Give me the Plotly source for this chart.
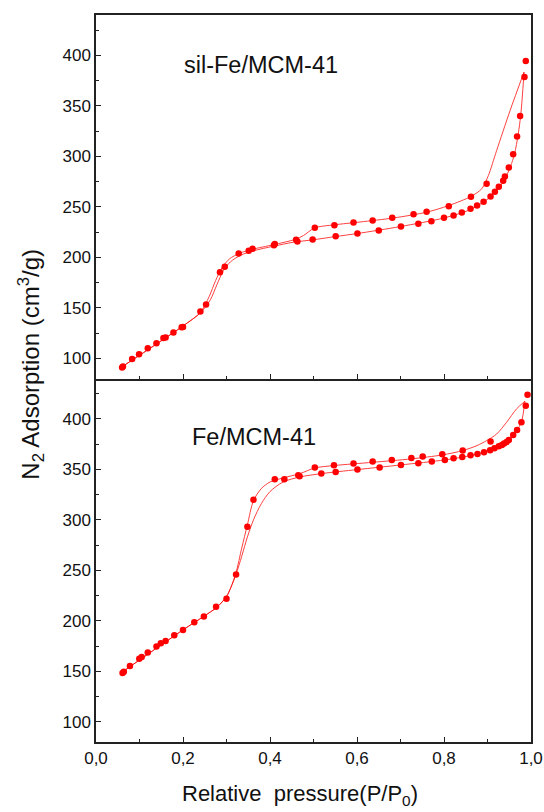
import plotly.graph_objects as go
from plotly.subplots import make_subplots

# ---------------- data ----------------
# Top panel: sil-Fe/MCM-41 measured points
top_ads_x = [0.060, 0.083, 0.099, 0.119, 0.139, 0.155, 0.178, 0.197, 0.240, 0.253, 0.285, 0.328,
             0.360, 0.409, 0.463, 0.498, 0.551, 0.601, 0.650, 0.701, 0.741, 0.771, 0.800, 0.822,
             0.841, 0.861, 0.876, 0.891, 0.907, 0.917, 0.926, 0.936, 0.940, 0.949, 0.959, 0.968,
             0.975, 0.988]
top_ads_y = [91, 99.3, 104, 110, 115, 120, 125.5, 130.8, 146.3, 153.2, 185.3, 203.8,
             208.4, 212, 215.7, 217.6, 220.9, 223.6, 226.6, 230.5, 233.2, 235.8, 239.1, 241.4,
             244.4, 248, 251.3, 255, 260.3, 264.9, 269.8, 275.8, 280, 289, 302.2, 319.7,
             339.9, 394.4]
top_des_x = [0.985, 0.898, 0.862, 0.811, 0.760, 0.730, 0.681, 0.636, 0.592, 0.548, 0.503, 0.460,
             0.411, 0.351, 0.296, 0.200, 0.160, 0.062]
top_des_y = [378.5, 272.8, 259.9, 250.7, 245.1, 242.7, 239.1, 236.5, 234.5, 231.8, 229.2, 217.3,
             213.3, 206.4, 190.6, 131, 120.5, 92]

# Top panel fitted curves
top_fit_ads_x = [0.056, 0.2, 0.24, 0.263, 0.278, 0.293, 0.309, 0.332, 0.362, 0.408, 0.454, 0.498,
                 0.551, 0.601, 0.70, 0.80, 0.861, 0.906, 0.936, 0.96, 0.975, 0.984]
top_fit_ads_y = [90.5, 132, 145, 158, 173, 187, 195.5, 202, 206.5, 211, 215, 217.3,
                 220.6, 223.6, 230.5, 239, 247.4, 259.6, 274.5, 299, 335.6, 383.5]
top_fit_des_x = [0.984, 0.952, 0.921, 0.902, 0.887, 0.862, 0.811, 0.760, 0.684, 0.607, 0.548, 0.503,
                 0.477, 0.458, 0.408, 0.36, 0.33, 0.307, 0.29, 0.275, 0.26, 0.24, 0.2, 0.056]
top_fit_des_y = [383.5, 345.5, 305.8, 281, 268, 260.3, 251.3, 244.7, 239, 235, 232.2, 229.2,
                 221.6, 217.8, 212.5, 208, 204, 198.5, 190, 177, 161, 145.5, 132, 90.5]

# Bottom panel: Fe/MCM-41 measured points
bot_ads_x = [0.061, 0.078, 0.0995, 0.119, 0.139, 0.160, 0.180, 0.200, 0.226, 0.248, 0.276, 0.300,
             0.322, 0.348, 0.468, 0.518, 0.551, 0.601, 0.652, 0.701, 0.741, 0.772, 0.802, 0.822,
             0.842, 0.861, 0.877, 0.892, 0.906, 0.916, 0.926, 0.933, 0.938, 0.944, 0.949, 0.959,
             0.968, 0.978, 0.992]
bot_ads_y = [148.3, 155.2, 162.5, 168.7, 174.7, 180, 185.6, 190.9, 198.5, 204.4, 214, 221.9,
             246, 293.3, 343.2, 345.8, 347.5, 349.8, 351.8, 354.4, 356.1, 357.7, 359.4, 361,
             362.3, 364, 365.3, 367, 369, 371, 373, 374.2, 375.6, 377.2, 379.2, 384.1,
             389.1, 396.7, 423.8]
bot_des_x = [0.988, 0.907, 0.843, 0.796, 0.751, 0.725, 0.680, 0.636, 0.592, 0.547, 0.503, 0.465,
             0.433, 0.411, 0.362, 0.149, 0.105, 0.064]
bot_des_y = [412.9, 377.5, 368.6, 365, 362.7, 361.3, 359.4, 357.7, 355.7, 354.1, 351.8, 344.2,
             340.2, 340.2, 320, 177.7, 164.1, 149.6]

# Bottom panel fitted curves
bot_fit_ads_x = [0.056, 0.2, 0.248, 0.278, 0.30, 0.31, 0.322, 0.335, 0.348, 0.362, 0.38, 0.40,
                 0.43, 0.469, 0.518, 0.601, 0.701, 0.802, 0.861, 0.906, 0.944, 0.967, 0.978, 0.986]
bot_fit_ads_y = [148, 191, 204.5, 213.5, 224, 233, 246, 264, 283, 300, 316, 328,
                 337.5, 342.5, 345.8, 349.8, 354.4, 359.4, 363.7, 369, 377.5, 388.4, 397, 417.5]
bot_fit_des_x = [0.986, 0.967, 0.944, 0.921, 0.898, 0.876, 0.843, 0.796, 0.725, 0.636, 0.547, 0.503,
                 0.47, 0.43, 0.40, 0.38, 0.362, 0.348, 0.335, 0.322, 0.31, 0.30, 0.278, 0.248, 0.2, 0.056]
bot_fit_des_y = [417.5, 410, 396.7, 385, 378.5, 373.6, 368.6, 364.3, 360.4, 357, 353.8, 351.4,
                 346, 341.5, 337.5, 331, 319, 295, 272, 248, 233, 224, 213.5, 204.5, 191, 148]

x_tickvals = [0.0, 0.2, 0.4, 0.6, 0.8, 1.0]
y_tickvals = [100, 150, 200, 250, 300, 350, 400]
panel_labels = ["sil-Fe/MCM-41", "Fe/MCM-41"]

# ---------------- figure ----------------
FONT = "Liberation Sans, Arial, sans-serif"
RED = "#ff0000"

fig = make_subplots(rows=2, cols=1, shared_xaxes=True, vertical_spacing=0)

panels = [
    (1, top_ads_x, top_ads_y, top_des_x, top_des_y,
     top_fit_ads_x, top_fit_ads_y, top_fit_des_x, top_fit_des_y),
    (2, bot_ads_x, bot_ads_y, bot_des_x, bot_des_y,
     bot_fit_ads_x, bot_fit_ads_y, bot_fit_des_x, bot_fit_des_y),
]
for row, ax, ay, dx, dy, fax, fay, fdx, fdy in panels:
    for fx, fy in [(fax, fay), (fdx, fdy)]:
        fig.add_trace(go.Scatter(x=fx, y=fy, mode="lines",
                                 line=dict(color=RED, width=1, shape="spline", smoothing=0.8),
                                 opacity=0.75, showlegend=False, hoverinfo="skip"),
                      row=row, col=1)
    for px, py in [(ax, ay), (dx, dy)]:
        fig.add_trace(go.Scatter(x=px, y=py, mode="markers",
                                 marker=dict(color=RED, size=6.5, line=dict(width=0)),
                                 showlegend=False),
                      row=row, col=1)

line_style = dict(showline=True, linecolor="#222", linewidth=1.5,
                  showgrid=False, zeroline=False, ticks="inside", tickcolor="#222",
                  tickwidth=1.2, automargin=False)

for row in (1, 2):
    fig.update_xaxes(range=[0, 1], tickvals=x_tickvals, tickformat=".1f", ticklen=5,
                     minor=dict(dtick=0.1, tick0=0, ticks="inside", ticklen=3,
                                tickcolor="#222", tickwidth=1.2),
                     showticklabels=(row == 2),
                     mirror=(row == 1),
                     tickfont=dict(family=FONT, size=17, color="#111"),
                     row=row, col=1, **line_style)
    fig.update_yaxes(range=[80, 440], tickvals=y_tickvals, ticklen=5, mirror=True,
                     minor=dict(dtick=25, tick0=0, ticks="inside", ticklen=3,
                                tickcolor="#222", tickwidth=1.2),
                     tickfont=dict(family=FONT, size=17, color="#111"),
                     row=row, col=1, **line_style)

annotations = [
    dict(text=panel_labels[0], x=0.379, y=390, xref="x", yref="y", showarrow=False,
         xanchor="center", yanchor="middle", font=dict(family=FONT, size=23.5, color="#111")),
    dict(text=panel_labels[1], x=0.364, y=382.5, xref="x2", yref="y2", showarrow=False,
         xanchor="center", yanchor="middle", font=dict(family=FONT, size=23.5, color="#111")),
    dict(text="N<sub>2</sub> Adsorption (cm<sup>3</sup>/g)", textangle=-90,
         x=-0.15, y=0.52, xref="paper", yref="paper", showarrow=False,
         xanchor="center", yanchor="middle", font=dict(family=FONT, size=24, color="#111")),
    dict(text="Relative  pressure(P/P<sub>0</sub>)",
         x=0.47, y=-0.073, xref="paper", yref="paper", showarrow=False,
         xanchor="center", yanchor="middle", font=dict(family=FONT, size=22, color="#111")),
]

fig.update_layout(
    width=544, height=812,
    margin=dict(l=96, r=13, t=15, b=70),
    paper_bgcolor="white", plot_bgcolor="white",
    separators=", ",
    annotations=annotations,
    font=dict(family=FONT, color="#111"),
)

fig.write_html("out.html")
